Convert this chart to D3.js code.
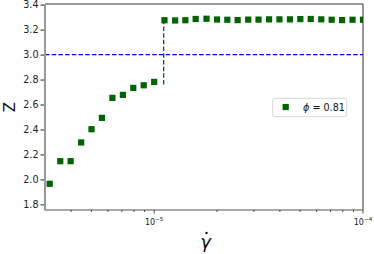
<!DOCTYPE html>
<html>
<head>
<meta charset="utf-8">
<script src="https://cdn.jsdelivr.net/npm/d3@7"></script>
<style>
  html, body { margin: 0; padding: 0; background: #fff; }
  svg { display: block; font-family: "DejaVu Sans", sans-serif; }
</style>
</head>
<body>
<div id="chart"></div>
<script>
// ---- data ----
const gammaDot = [3.16e-6, 3.55e-6, 3.98e-6, 4.47e-6, 5.01e-6, 5.62e-6, 6.31e-6, 7.08e-6, 7.94e-6, 8.91e-6,
  1.0e-5, 1.12e-5, 1.26e-5, 1.41e-5, 1.58e-5, 1.78e-5, 2.0e-5, 2.24e-5, 2.51e-5, 2.82e-5,
  3.16e-5, 3.55e-5, 3.98e-5, 4.47e-5, 5.01e-5, 5.62e-5, 6.31e-5, 7.08e-5, 7.94e-5, 8.91e-5, 1.0e-4];
const zValues = [1.965, 2.146, 2.146, 2.296, 2.402, 2.493, 2.653, 2.677, 2.733, 2.754,
  2.781, 3.275, 3.273, 3.275, 3.285, 3.287, 3.281, 3.279, 3.276, 3.280,
  3.280, 3.282, 3.282, 3.282, 3.284, 3.285, 3.282, 3.279, 3.276, 3.279, 3.279];
const jumpX = [1.11e-5];
const jumpZ = [2.76, 3.28];
const refLineZ = [3.0];
const yTicks = [1.8, 2.0, 2.2, 2.4, 2.6, 2.8, 3.0, 3.2, 3.4];
const xMajorTicks = [1e-5, 1e-4];
const xMajorExp = ["\u22125", "\u22124"];
const xMinorTicks = [4e-6, 5e-6, 6e-6, 7e-6, 8e-6, 9e-6, 2e-5, 3e-5, 4e-5, 5e-5, 6e-5, 7e-5, 8e-5, 9e-5];
const legendLabel = "0.81";

// ---- layout ----
const W = 374, H = 254;
const L = 45, R = 363, T = 4, B = 210;
const green = "#006400";

const svg = d3.select("#chart").append("svg").attr("width", W).attr("height", H);

const x = d3.scaleLog().domain([3e-6, 1e-4]).range([L, R]);
const y = d3.scaleLinear().domain([1.755, 3.405]).range([B, T]);

svg.append("defs").append("clipPath").attr("id", "clip")
  .append("rect").attr("x", L).attr("y", T).attr("width", R - L).attr("height", B - T);

const plot = svg.append("g").attr("clip-path", "url(#clip)");

// reference line
plot.selectAll("line.ref").data(refLineZ).enter().append("line")
  .attr("class", "ref")
  .attr("x1", L).attr("x2", R)
  .attr("y1", d => y(d)).attr("y2", d => y(d))
  .attr("stroke", "#0000ff").attr("stroke-width", 1.3).attr("stroke-dasharray", "4.5,2.2");

// jump dashed line
plot.append("line")
  .attr("x1", x(jumpX[0])).attr("x2", x(jumpX[0]))
  .attr("y1", y(jumpZ[0])).attr("y2", y(jumpZ[1]))
  .attr("stroke", green).attr("stroke-width", 1.3).attr("stroke-dasharray", "4.5,2.2");

// markers
const ms = 6.2;
plot.selectAll("rect.pt").data(gammaDot).enter().append("rect")
  .attr("class", "pt")
  .attr("x", (d) => x(d) - ms / 2)
  .attr("y", (d, i) => y(zValues[i]) - ms / 2)
  .attr("width", ms).attr("height", ms)
  .attr("fill", green);

// spines
svg.append("line").attr("x1", L).attr("x2", R).attr("y1", T).attr("y2", T).attr("stroke", "#333").attr("stroke-width", 1);
svg.append("line").attr("x1", R).attr("x2", R).attr("y1", T).attr("y2", B).attr("stroke", "#333").attr("stroke-width", 1);
svg.append("line").attr("x1", L).attr("x2", R).attr("y1", B).attr("y2", B).attr("stroke", "#555").attr("stroke-width", 1.2);
svg.append("line").attr("x1", L).attr("x2", L).attr("y1", T).attr("y2", B + 0.6).attr("stroke", "#999").attr("stroke-width", 2);

// y axis
const yAxis = d3.axisLeft(y).tickValues(yTicks).tickSize(3.5).tickPadding(2).tickFormat(d3.format(".1f"));
const gy = svg.append("g").attr("transform", `translate(${L - 1},0)`).call(yAxis);
gy.select(".domain").remove();
gy.selectAll("text").attr("font-size", "9.6px").attr("fill", "#222").attr("font-family", "DejaVu Sans");
gy.selectAll("line").attr("stroke", "#222");

// x axis minor ticks
svg.selectAll("line.minor").data(xMinorTicks).enter().append("line")
  .attr("x1", d => x(d)).attr("x2", d => x(d))
  .attr("y1", B).attr("y2", B + 2)
  .attr("stroke", "#222").attr("stroke-width", 0.8);
// major ticks
svg.selectAll("line.major").data(xMajorTicks).enter().append("line")
  .attr("x1", d => x(d)).attr("x2", d => x(d))
  .attr("y1", B).attr("y2", B + 3.5)
  .attr("stroke", "#222").attr("stroke-width", 0.8);
const lbl = svg.selectAll("text.xt").data(xMajorTicks).enter().append("text")
  .attr("x", d => x(d)).attr("y", B + 14.5)
  .attr("text-anchor", "middle").attr("font-size", "8px").attr("fill", "#222");
lbl.append("tspan").text("10");
lbl.append("tspan").attr("dy", -3.5).attr("font-size", "5.6px").text((d, i) => xMajorExp[i]);

// axis labels
svg.append("text").attr("transform", "translate(15,107) rotate(-90)")
  .attr("text-anchor", "middle").attr("font-size", "15px").attr("fill", "#111").text("Z");
const gx = x(1.78e-5) ;
svg.append("text").attr("x", 205.5).attr("y", 248)
  .attr("text-anchor", "middle").attr("font-size", "18px").attr("font-style", "italic").attr("fill", "#111").text("\u03b3");
svg.append("circle").attr("cx", 206.5).attr("cy", 233).attr("r", 1.2).attr("fill", "#111");

// legend
const lg = svg.append("g");
lg.append("rect").attr("x", 272.7).attr("y", 98.3).attr("width", 74).attr("height", 18.4)
  .attr("rx", 2).attr("fill", "#fff").attr("fill-opacity", 0.8).attr("stroke", "#ccc").attr("stroke-width", 0.8);
lg.append("rect").attr("x", 285.7 - ms / 2).attr("y", 107 - ms / 2).attr("width", ms).attr("height", ms).attr("fill", green);
const lt = lg.append("text").attr("x", 303).attr("y", 110.5).attr("font-size", "9.6px").attr("fill", "#111");
lt.append("tspan").attr("font-style", "italic").text("\u03d5");
lt.append("tspan").text(" = " + legendLabel);
</script>
</body>
</html>
